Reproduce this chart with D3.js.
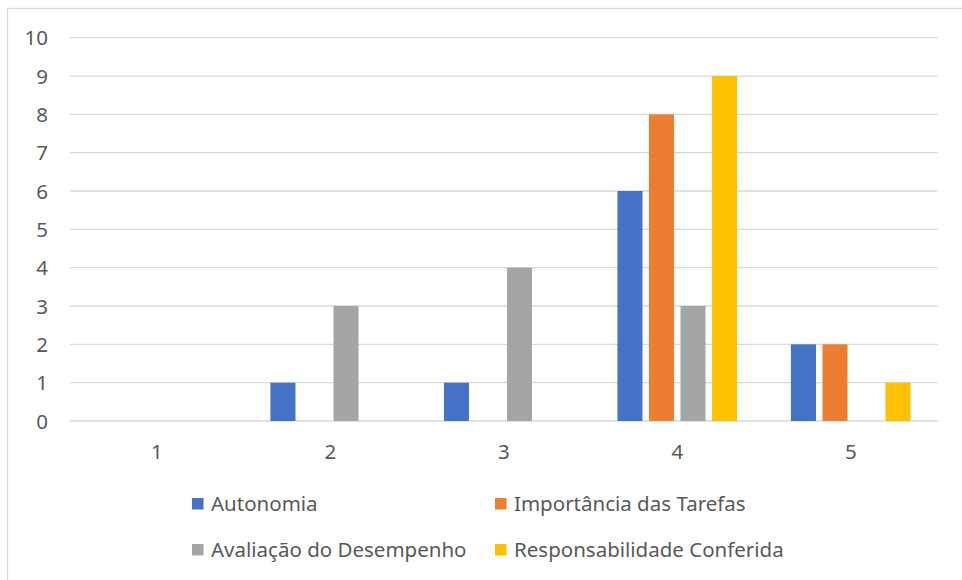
<!DOCTYPE html>
<html>
<head>
<meta charset="utf-8">
<script src="https://cdn.jsdelivr.net/npm/d3@7"></script>
<style>
  html, body { margin: 0; padding: 0; background: #fff; }
  svg text { font-family: "Noto Sans", "Open Sans", sans-serif; fill: #595959; }
</style>
</head>
<body>
<svg id="chart" width="962" height="580"></svg>
<script>
// Response counts per score (1–5) for each job-characteristic dimension
const categories = ["1", "2", "3", "4", "5"];
const seriesNames = ["Autonomia", "Importância das Tarefas", "Avaliação do Desempenho", "Responsabilidade Conferida"];
const autonomia = [0, 1, 1, 6, 2];
const importancia = [0, 0, 0, 8, 2];
const avaliacao = [0, 3, 4, 3, 0];
const responsabilidade = [0, 0, 0, 9, 1];
const yTicks = [0, 1, 2, 3, 4, 5, 6, 7, 8, 9, 10];
const colors = ["#4472C4", "#ED7D31", "#A5A5A5", "#FFC000"];

const seriesValues = [autonomia, importancia, avaliacao, responsabilidade];
const rows = categories.map((c, i) => ({
  cat: c,
  values: seriesNames.map((s, k) => ({ series: s, value: seriesValues[k][i] }))
}));

const FONT = "\"Noto Sans\", \"Open Sans\", sans-serif";
const FS = 20.5;

const svg = d3.select("#chart");
const plot = { left: 70, right: 937.5, top: 37.7, bottom: 421 };

// Outer frame
svg.append("rect")
  .attr("x", 7.5).attr("y", 8.5)
  .attr("width", 962).attr("height", 580)
  .attr("fill", "none").attr("stroke", "#D9D9D9").attr("stroke-width", 1.3);

const x0 = d3.scaleBand()
  .domain(categories)
  .range([plot.left, plot.right])
  .paddingInner(0.273)
  .paddingOuter(0.1365);

const x1 = d3.scaleBand()
  .domain(seriesNames)
  .range([0, x0.bandwidth()])
  .paddingInner(0.206)
  .paddingOuter(0.103);

const y = d3.scaleLinear().domain([0, 10]).range([plot.bottom, plot.top]);

// Horizontal gridlines
svg.append("g")
  .selectAll("line")
  .data(yTicks)
  .join("line")
  .attr("x1", plot.left).attr("x2", plot.right)
  .attr("y1", d => y(d)).attr("y2", d => y(d))
  .attr("stroke", "#D9D9D9").attr("stroke-width", 1.3);

// Y axis labels
const yAxis = d3.axisLeft(y).tickValues(yTicks).tickSize(0).tickPadding(0);
const yg = svg.append("g").attr("transform", `translate(48,0)`).call(yAxis);
yg.attr("font-size", FS).attr("font-family", FONT);
yg.select(".domain").remove();
yg.selectAll("text")
  .attr("dy", "0.35em")
  .attr("fill", "#595959");

// X axis labels
const xAxis = d3.axisBottom(d3.scaleBand().domain(categories).range([plot.left, plot.right])).tickSize(0).tickPadding(0);
const xg = svg.append("g").attr("transform", `translate(0,452)`).call(xAxis);
xg.attr("font-size", FS).attr("font-family", FONT);
xg.select(".domain").remove();
xg.selectAll("text")
  .attr("dy", "0.35em")
  .attr("y", 0)
  .attr("fill", "#595959");

// Bars
const groups = svg.append("g")
  .selectAll("g")
  .data(rows)
  .join("g")
  .attr("transform", d => `translate(${x0(d.cat)},0)`);

groups.selectAll("rect")
  .data(d => d.values.filter(v => v.value > 0))
  .join("rect")
  .attr("x", d => x1(d.series))
  .attr("width", x1.bandwidth())
  .attr("y", d => y(d.value))
  .attr("height", d => y(0) - y(d.value))
  .attr("fill", d => colors[seriesNames.indexOf(d.series)]);

// Legend: two columns, two rows
const legend = svg.append("g").attr("font-size", FS).attr("font-family", FONT);
const legendCols = [192, 495];
const legendRows = [504, 550];
seriesNames.forEach((name, i) => {
  const lx = legendCols[i % 2];
  const ly = legendRows[Math.floor(i / 2)];
  const item = legend.append("g").attr("transform", `translate(${lx},${ly})`);
  item.append("rect")
    .attr("x", 0).attr("y", -6)
    .attr("width", 11.5).attr("height", 11.5)
    .attr("fill", colors[i]);
  item.append("text")
    .attr("x", 19).attr("y", 0)
    .attr("dy", "0.35em")
    .text(name);
});
</script>
</body>
</html>
